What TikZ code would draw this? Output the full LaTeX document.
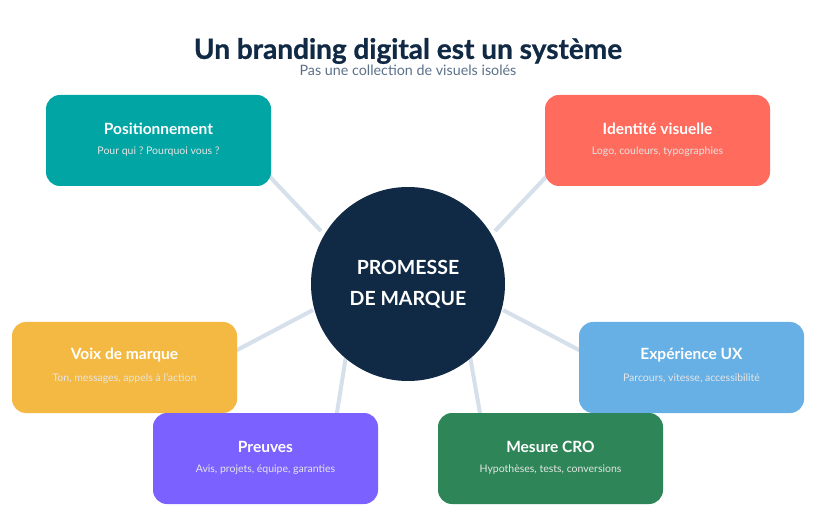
\documentclass[tikz,border=0pt]{standalone}
\usepackage{fontspec}
\setmainfont{Lato}
\newfontfamily\titlefont{Lato}[BoldFeatures={FakeBold=0.8}]
\usetikzlibrary{calc}
\frenchspacing
\definecolor{cteal}{HTML}{00A5A4}
\definecolor{ccoral}{HTML}{FF6B5D}
\definecolor{cyellow}{HTML}{F4B942}
\definecolor{cblue}{HTML}{67B0E5}
\definecolor{cpurple}{HTML}{7B61FF}
\definecolor{cgreen}{HTML}{2E8658}
\definecolor{cnavy}{HTML}{102944}
\definecolor{csub}{HTML}{5B7089}
\definecolor{cline}{HTML}{D6E0EB}
\begin{document}
\begin{tikzpicture}[x=1pt,y=-1pt,
  card/.style={rounded corners=14pt, inner sep=0pt, minimum width=225pt, minimum height=91pt, draw=none},
  cardtitle/.style={text=white, font=\fontsize{15.5}{18}\selectfont\bfseries, inner sep=0pt},
  cardsub/.style={text=white!90!black, font=\fontsize{10.5}{12}\selectfont\frenchspacing, inner sep=0pt},
  link/.style={draw=cline, line width=4pt}]
\useasboundingbox[fill=white] (0,0) rectangle (816,510);
% connector end points
\coordinate (a1) at (321,231); \coordinate (b1) at (255,161);
\coordinate (a2) at (495,231); \coordinate (b2) at (561,161);
\coordinate (a3) at (313,310); \coordinate (b3) at (220,359);
\coordinate (a4) at (503,310); \coordinate (b4) at (596,359);
\coordinate (a5) at (346,356); \coordinate (b5) at (335,425);
\coordinate (a6) at (470,356); \coordinate (b6) at (482,425);
\foreach \i in {1,...,6} {\draw[link] (a\i) -- (b\i);}
% title
\node[text=cnavy, font=\titlefont\fontsize{28}{32}\selectfont\bfseries, inner sep=0pt] (title) at (408,51) {Un branding digital est un système};
\node[text=csub, font=\fontsize{14.3}{16}\selectfont, inner sep=0pt] (subtitle) at (408,70) {Pas une collection de visuels isolés};
% center
\node[circle, fill=cnavy, minimum size=194pt, inner sep=0pt, text=white, align=center,
  font=\fontsize{19.5}{31}\selectfont\bfseries] (c) at (408,284) {PROMESSE\\DE MARQUE};
% cards
\node[card, fill=cteal] (k1) at (158.5,140.5) {};
\node[card, fill=ccoral] (k2) at (657.5,140.5) {};
\node[card, fill=cyellow] (k3) at (124.5,367.5) {};
\node[card, fill=cblue] (k4) at (691.5,367.5) {};
\node[card, fill=cpurple] (k5) at (265.5,458.5) {};
\node[card, fill=cgreen] (k6) at (550.5,458.5) {};
% card texts
\node[cardtitle] (t1) at ($(k1.center)+(0,-12)$) {Positionnement};
\node[cardsub] (s1) at ($(k1.center)+(0,11)$) {Pour qui ? Pourquoi vous ?};
\node[cardtitle] (t2) at ($(k2.center)+(0,-12)$) {Identité visuelle};
\node[cardsub] (s2) at ($(k2.center)+(0,11)$) {Logo, couleurs, typographies};
\node[cardtitle] (t3) at ($(k3.center)+(0,-12)$) {Voix de marque};
\node[cardsub] (s3) at ($(k3.center)+(0,11)$) {Ton, messages, appels à l’action};
\node[cardtitle] (t4) at ($(k4.center)+(0,-12)$) {Expérience UX};
\node[cardsub] (s4) at ($(k4.center)+(0,11)$) {Parcours, vitesse, accessibilité};
\node[cardtitle] (t5) at ($(k5.center)+(0,-12)$) {Preuves};
\node[cardsub] (s5) at ($(k5.center)+(0,11)$) {Avis, projets, équipe, garanties};
\node[cardtitle] (t6) at ($(k6.center)+(0,-12)$) {Mesure CRO};
\node[cardsub] (s6) at ($(k6.center)+(0,11)$) {Hypothèses, tests, conversions};
\end{tikzpicture}
\end{document}
